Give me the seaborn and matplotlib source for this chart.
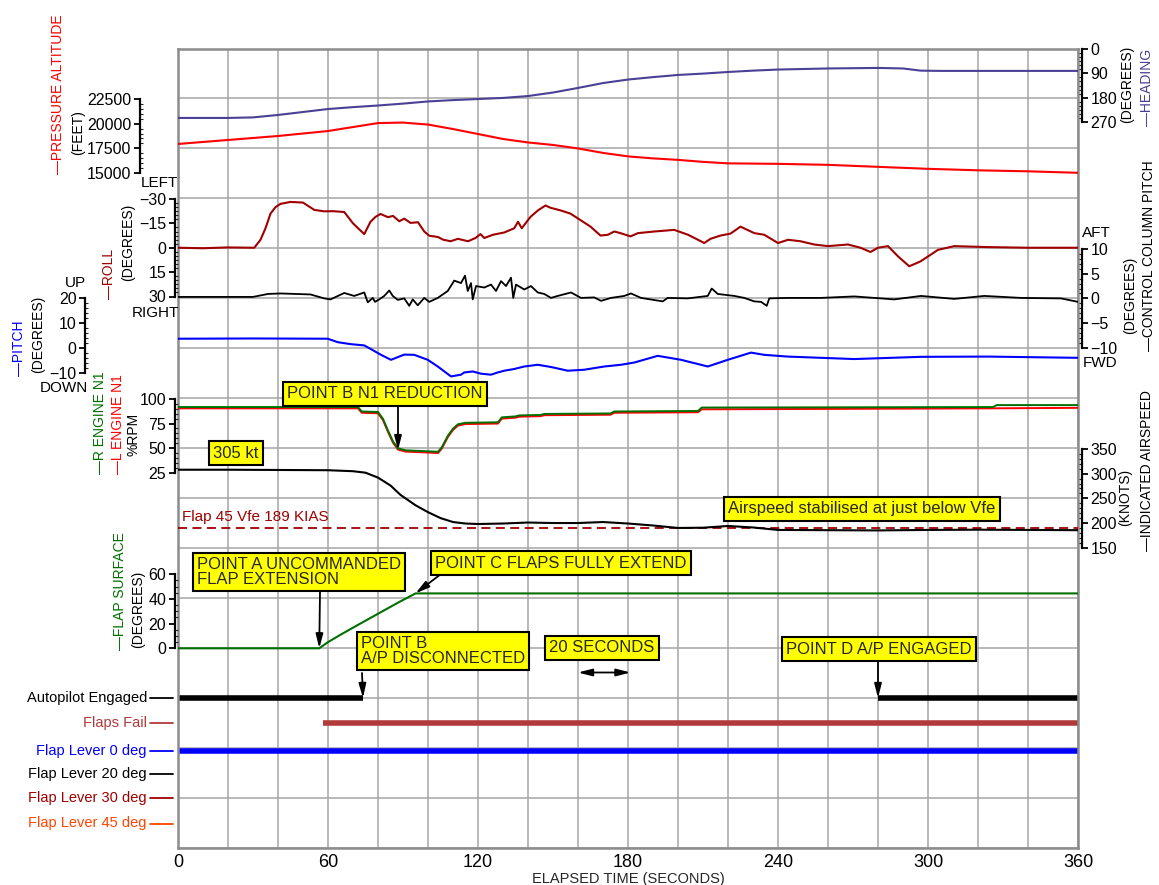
import numpy as np
import pandas as pd
import matplotlib
matplotlib.use("Agg")
import matplotlib.pyplot as plt
from matplotlib.lines import Line2D
import seaborn as sns

# ---- values (time in s, value in series units) ----
altitude = [(0, 17950), (20, 18350), (40, 18750), (60, 19250), (70, 19650), (80, 20050),
            (90, 20100), (100, 19900), (110, 19450), (120, 18950), (130, 18450), (140, 18100),
            (150, 17850), (160, 17500), (170, 17050), (180, 16700), (190, 16500), (200, 16350),
            (210, 16150), (220, 16000), (240, 15950), (260, 15850), (280, 15650), (300, 15450),
            (320, 15300), (340, 15200), (360, 15050)]

heading = [(0, 255), (20, 255), (30, 253), (40, 244), (50, 233), (60, 222), (70, 215),
           (80, 209), (90, 202), (100, 194), (110, 189), (120, 185), (130, 181), (140, 174),
           (150, 161), (160, 144), (170, 126), (180, 113), (190, 104), (200, 96), (210, 91),
           (220, 85), (230, 80), (240, 76), (260, 72), (280, 70), (290, 72), (297, 80),
           (305, 81), (360, 81)]

roll = [(0, 0), (10, 0.3), (20, -0.2), (30.5, 0), (33, -4.9), (35, -12), (37, -21), (39, -25),
        (41, -27), (45, -28.2), (50, -27.8), (54.5, -23.3), (58.5, -22.4), (62, -22.5),
        (66.5, -22), (70, -15), (74.5, -8.4), (77, -16), (79, -19), (81, -20.8), (84, -18.8),
        (86, -19.6), (88.5, -16.3), (90.5, -17.9), (93, -15.3), (96, -15.7), (98.5, -10),
        (100.5, -7.4), (104, -6.6), (106, -5), (109, -4), (112, -5.5), (116, -4), (119, -6),
        (121, -8.4), (122.5, -6), (126, -8), (130.5, -9.4), (134.5, -12), (136, -16),
        (137.5, -12), (141, -19), (144, -23), (147, -26), (149, -24.6), (153, -23), (157, -21),
        (160, -18), (165, -13), (169, -7.5), (172, -8), (174.5, -10), (177, -9), (181, -7),
        (184, -9), (190.5, -10), (198.5, -11), (204, -8), (208, -4.9), (210.5, -2.9),
        (213, -5.5), (217, -7.5), (221, -8.7), (225, -13), (230.5, -9), (234.5, -8),
        (240, -2.9), (244, -4.9), (249, -4), (254.5, -2), (260, -1), (268, -2), (273, 0),
        (277, 2.6), (280, 0), (284, -1), (288, 5.3), (292.5, 11.4), (297, 8.4), (304, 1.3),
        (310.5, -1), (324, -0.4), (340, 0), (360, 0)]

column_pitch = [(0, 0.3), (30, 0.3), (36, 0.9), (41, 1.0), (53, 0.8), (58.5, 0.0), (61, -0.2),
                (66.5, 1.1), (70.5, 0.5), (74.5, 1.2), (75.9, -0.8), (77.9, 0.1), (78.8, -0.7),
                (80.5, -0.2), (82.5, 0.5), (84.5, 1.6), (85.9, 0.5), (87.9, -0.3), (90.5, 0.0),
                (92.5, -1.5), (93.9, -0.2), (95.9, -1.4), (98.5, 0.1), (100.5, -0.7),
                (103.9, 0.1), (107.9, 1.5), (110.5, 3.6), (113.2, 3.1), (114.8, 4.6),
                (115.9, 1.5), (117.2, 3.1), (117.9, -0.2), (119.2, 2.5), (122.5, 2.2),
                (125.2, 2.8), (127.2, 1.5), (129.2, 3.5), (131.2, 2.5), (133.2, 4.2),
                (134.1, 0.1), (135.2, 2.8), (138.5, 1.8), (141.2, 2.5), (143.9, 1.2),
                (146.5, 0.9), (149.2, 0.1), (151.9, 0.5), (157.2, 1.2), (161.2, 0.1),
                (166.5, 0.2), (169.2, -0.5), (173.2, 0.1), (178.5, 0.5), (181.2, 1.0),
                (185.2, 0.1), (193.9, -0.6), (195.9, 0.1), (203.9, 0.0), (211.9, 0.5),
                (213.5, 2.0), (215.9, 0.9), (222.5, 0.5), (226.5, 0.1), (230.5, -0.6),
                (233.2, -0.7), (235.5, -1.5), (236.5, 0.0), (243.9, 0.1), (257.2, 0.1),
                (270.5, 0.4), (286.5, -0.2), (297.2, 0.5), (310.5, -0.1), (322.5, 0.5),
                (337.2, 0.1), (353.2, 0.0), (360, -0.7)]

pitch = [(0, 3.7), (30, 3.8), (59.9, 3.7), (63.9, 2.3), (69.2, 1.5), (74.5, 1.0), (77.2, -0.5),
         (81.2, -2.8), (85.2, -4.8), (90.5, -2.7), (94.5, -2.8), (99.9, -4.8), (103.9, -7.5),
         (109.2, -11.5), (113.2, -10.8), (114.5, -9.9), (117.9, -9.5), (121.2, -10.4),
         (125.2, -10.8), (127.9, -9.9), (130.5, -9.2), (134.5, -8.5), (138.5, -7.5),
         (143.9, -6.8), (149.2, -7.7), (155.9, -9.2), (162.5, -8.8), (170.5, -7.5),
         (177.2, -6.8), (182.5, -5.9), (191.9, -3.2), (201.2, -4.8), (211.9, -7.5),
         (219.9, -4.8), (229.2, -1.9), (234.5, -2.8), (243.9, -3.5), (270.5, -4.5),
         (297.2, -3.6), (323.9, -3.5), (360, -4.0)]

n1_left = [(0, 90.5), (72, 90.5), (73.5, 86), (80, 85.5), (82, 78.5), (84, 66.5), (86, 55.5),
           (88, 48.5), (91, 46.5), (100, 45.5), (104, 45), (105.5, 49.5), (108, 61.5),
           (110, 68.5), (112, 73), (115, 74.5), (128, 75), (129.5, 80), (135, 81),
           (136.5, 82), (145, 82.5), (146.5, 83.5), (173, 84), (174.5, 86), (208, 86.5),
           (209.5, 89.5), (326, 90.5), (360, 91)]
n1_right = [(0, 91.8), (72, 91.8), (73.5, 87.3), (80, 86.8), (82, 79.8), (84, 67.8), (86, 56.8),
            (88, 49.8), (91, 47.8), (100, 46.8), (104, 46.3), (105.5, 50.8), (108, 62.8),
            (110, 69.8), (112, 74.3), (115, 75.8), (128, 76.3), (129.5, 81.3), (135, 82.3),
            (136.5, 83.3), (145, 83.8), (146.5, 84.8), (173, 85.3), (174.5, 87.3), (208, 87.8),
            (209.5, 91.3), (326, 91.8), (327.5, 93.8), (360, 93.8)]

airspeed = [(0, 308), (20, 308), (40, 307.5), (60, 307), (70, 305), (75, 302), (80, 292),
            (85, 276), (89, 257), (95, 236), (100, 222), (105, 210), (110, 202), (115, 199),
            (120, 198), (130, 199), (140, 201), (150, 200), (160, 200), (170, 202), (180, 199),
            (190, 195), (200, 190), (210, 190.5), (220, 194), (230, 191), (240, 186),
            (260, 185.5), (280, 185), (300, 186), (320, 186.5), (340, 186), (360, 185.5)]
vfe_kias = 189

flap_surface = [(0, 0), (56.5, 0), (60, 5), (65, 11), (72, 19), (80, 28), (88, 37), (95, 44.5),
                (360, 44.5)]

row_names = ["Autopilot Engaged", "Flaps Fail", "Flap Lever 0 deg", "Flap Lever 20 deg",
             "Flap Lever 30 deg", "Flap Lever 45 deg"]
row_on = [[(0, 74), (280, 360)], [(58, 360)], [(0, 360)], [], [], []]
row_colors = ["black", "#b03a3a", "#0000ff", "black", "#a00000", "#ff4500"]

# ---- layout (figure pixels) ----
W, H = 1159, 885
LEFT, RIGHT, TOP, BOTTOM = 178, 1078, 48.5, 848
row_pix = [698, 722.5, 750.5, 774, 798, 823.5]

sns.set_theme(style="white")
plt.rcParams["font.family"] = ["Liberation Sans", "DejaVu Sans"]
NARROW = ["Liberation Sans Narrow", "Liberation Sans", "DejaVu Sans"]

fig = plt.figure(figsize=(W / 100, H / 100), dpi=100)
ax = fig.add_axes([LEFT / W, 1 - BOTTOM / H, (RIGHT - LEFT) / W, (BOTTOM - TOP) / H])


def fx(x):
    return x / W


def fy(y):
    return 1 - y / H


def unit(y):
    return (BOTTOM - y) / (BOTTOM - TOP) * 16


def spine_pos(x):
    return (x - LEFT) / (RIGHT - LEFT)


def overlay(va, pa, vb, pb):
    # transparent twin axes whose y scale puts value va at pixel row pa and vb at pb
    a = ax.twinx()
    k = (vb - va) / (pb - pa)
    a.set_ylim(va + (BOTTOM - pa) * k, va + (TOP - pa) * k)
    for s in a.spines.values():
        s.set_visible(False)
    a.tick_params(axis="y", which="both", left=False, right=False,
                  labelleft=False, labelright=False)
    return a


def scale_bar(a, side, x, ticks, step):
    sp = a.spines[side]
    sp.set_visible(True)
    sp.set_position(("axes", spine_pos(x)))
    sp.set_bounds(min(ticks), max(ticks))
    sp.set_color("black")
    sp.set_linewidth(1.6)
    if side == "left":
        a.yaxis.tick_left()
    else:
        a.yaxis.tick_right()
    a.set_yticks(ticks, [f"{t:g}".replace("-", "\u2212") for t in ticks])
    a.set_yticks(np.arange(min(ticks), max(ticks) + step / 2, step), minor=True)
    is_left = side == "left"
    a.tick_params(axis="y", which="major", length=4, width=1.3, direction="out", pad=2,
                  labelsize=11.5, colors="black", left=is_left, right=not is_left,
                  labelleft=is_left, labelright=not is_left)
    a.tick_params(axis="y", which="minor", length=2.5, width=0.8, direction="in",
                  left=is_left, right=not is_left)


def trace(a, pairs, color, lw=1.5):
    df = pd.DataFrame(pairs, columns=["t", "v"])
    sns.lineplot(data=df, x="t", y="v", ax=a, color=color, lw=lw, estimator=None, legend=False)
    a.set(xlabel="", ylabel="")


# heading + altitude
ax_alt = overlay(22500, 98.7, 15000, 173.3)
scale_bar(ax_alt, "left", 139.5, [15000, 17500, 20000, 22500], 500)
ax_hdg = overlay(0, 49, 270, 122)
scale_bar(ax_hdg, "right", 1082, [0, 90, 180, 270], 15)
trace(ax_hdg, heading, "#4a4096")
trace(ax_alt, altitude, "#ff0000")

# roll, control column, pitch
ax_roll = overlay(-30, 199, 30, 296.5)
scale_bar(ax_roll, "left", 174.5, [-30, -15, 0, 15, 30], 2.5)
trace(ax_roll, roll, "#a00000")
ax_ccp = overlay(10, 249, -10, 347.8)
scale_bar(ax_ccp, "right", 1082, [-10, -5, 0, 5, 10], 1)
trace(ax_ccp, column_pitch, "black", lw=1.3)
ax_pitch = overlay(20, 298.3, -10, 372.7)
scale_bar(ax_pitch, "left", 85, [-10, 0, 10, 20], 2)
trace(ax_pitch, pitch, "#0000ff")

# engines and airspeed
ax_n1 = overlay(100, 399, 25, 472.7)
scale_bar(ax_n1, "left", 174.5, [25, 50, 75, 100], 5)
trace(ax_n1, n1_left, "#ff0000", lw=1.4)
trace(ax_n1, n1_right, "#007000", lw=1.4)
ax_ias = overlay(350, 449, 150, 547.7)
scale_bar(ax_ias, "right", 1082, [150, 200, 250, 300, 350], 10)
ax_ias.axhline(vfe_kias, color="#a00000", lw=1.3, ls=(0, (5, 3)))
trace(ax_ias, airspeed, "black")

# flap surface
ax_flap = overlay(60, 574.3, 0, 648.3)
scale_bar(ax_flap, "left", 174.5, [0, 20, 40, 60], 5)
trace(ax_flap, flap_surface, "#007000")

# discrete rows
for p, spans, c in zip(row_pix, row_on, row_colors):
    for start, end in spans:
        ax.hlines(unit(p), start, end, color=c, lw=4, capstyle="butt")

# main grid frame
ax.set_xlim(0, 360)
ax.set_ylim(0, 16)
ax.set_xticks(range(0, 361, 60))
ax.set_xticks(range(0, 361, 20), minor=True)
ax.set_yticks(range(17))
ax.grid(True, which="both", color="#a6a6a6", lw=1.1)
ax.tick_params(axis="x", which="both", length=0, pad=4, labelsize=13, colors="black")
ax.tick_params(axis="y", left=False, labelleft=False)
ax.set_xlabel("ELAPSED TIME (SECONDS)", fontsize=10.5, family=NARROW, labelpad=1)
for s in ax.spines.values():
    s.set_visible(True)
    s.set_color("#8c8c8c")
    s.set_linewidth(1.8)

# vertical axis titles
vlabels = [
    ("\u2014PRESSURE ALTITUDE", "#ff0000", 58, 174),
    ("(FEET)", "black", 78, 155),
    ("\u2014ROLL", "#a00000", 109, 299),
    ("(DEGREES)", "black", 128, 281),
    ("\u2014PITCH", "#0000ff", 19, 376),
    ("(DEGREES)", "black", 38, 373),
    ("\u2014R ENGINE N1", "#007000", 100, 474),
    ("\u2014L ENGINE N1", "#ff0000", 118, 474),
    ("%RPM", "black", 134, 456),
    ("\u2014FLAP SURFACE", "#007000", 120, 650),
    ("(DEGREES)", "black", 138, 648),
    ("(DEGREES)", "black", 1127, 123),
    ("\u2014HEADING", "#4a4096", 1147, 126),
    ("(DEGREES)", "black", 1130, 334),
    ("\u2014CONTROL COLUMN PITCH", "black", 1149, 351),
    ("(KNOTS)", "black", 1125, 526),
    ("\u2014INDICATED AIRSPEED", "black", 1147, 551),
]
for txt, c, x, y in vlabels:
    fig.text(fx(x), fy(y), txt, color=c, rotation=90, ha="center", va="bottom",
             fontsize=10, family=NARROW)

hlabels = [
    ("LEFT", "black", 159, 183, "center"),
    ("RIGHT", "black", 155, 313, "center"),
    ("UP", "black", 75, 283, "center"),
    ("DOWN", "black", 64, 388, "center"),
    ("AFT", "black", 1082, 233, "left"),
    ("FWD", "black", 1083, 363, "left"),
    ("Flap 45 Vfe 189 KIAS", "#a00000", 182, 517, "left"),
]
for txt, c, x, y, ha in hlabels:
    fig.text(fx(x), fy(y), txt, color=c, ha=ha, va="center", fontsize=11, family=NARROW)

for name, c, p in zip(row_names, row_colors, row_pix):
    fig.text(fx(147), fy(p), name, color=c, ha="right", va="center", fontsize=10.5)
    fig.add_artist(Line2D([fx(150), fx(173)], [fy(p), fy(p)], color=c, lw=1.3))

# yellow call-outs
box = dict(boxstyle="square,pad=0.25", fc="#ffff00", ec="black", lw=1.5)
callouts = [
    ("POINT B N1 REDUCTION", 385, 394, "center"),
    ("305 kt", 236, 453, "center"),
    ("Airspeed stabilised at just below Vfe", 862, 509, "center"),
    ("POINT A UNCOMMANDED\nFLAP EXTENSION", 197, 572, "left"),
    ("POINT C FLAPS FULLY EXTEND", 561, 563, "center"),
    ("POINT B\nA/P DISCONNECTED", 361, 651, "left"),
    ("20 SECONDS", 602, 648, "center"),
    ("POINT D A/P ENGAGED", 879, 649, "center"),
]
for txt, x, y, ha in callouts:
    fig.text(fx(x), fy(y), txt, ha=ha, va="center", fontsize=12, family=NARROW,
             linespacing=1.05, bbox=box)

arrow = dict(arrowstyle="-|>,head_length=0.7,head_width=0.18", color="black", lw=1.3,
             shrinkA=0, shrinkB=0)
pointers = [
    ((398, 405), (88, 48), ax_n1.transData),
    ((320, 592), (56.5, 0), ax_flap.transData),
    ((441, 574), (95, 44.5), ax_flap.transData),
    ((362, 673), (74, unit(row_pix[0])), ax.transData),
    ((878, 662), (280, unit(row_pix[0])), ax.transData),
]
for (x, y), xy, tr in pointers:
    ax_flap.annotate("", xy=xy, xycoords=tr, xytext=(x, H - y), textcoords="figure pixels",
                     arrowprops=arrow, annotation_clip=False)
ax_flap.annotate("", xy=(181, unit(672.5)), xycoords=ax.transData,
                 xytext=(160, unit(672.5)), textcoords=ax.transData,
                 arrowprops=dict(arrow, arrowstyle="<|-|>,head_length=0.7,head_width=0.18"))

fig.savefig("out.png", dpi=100)
